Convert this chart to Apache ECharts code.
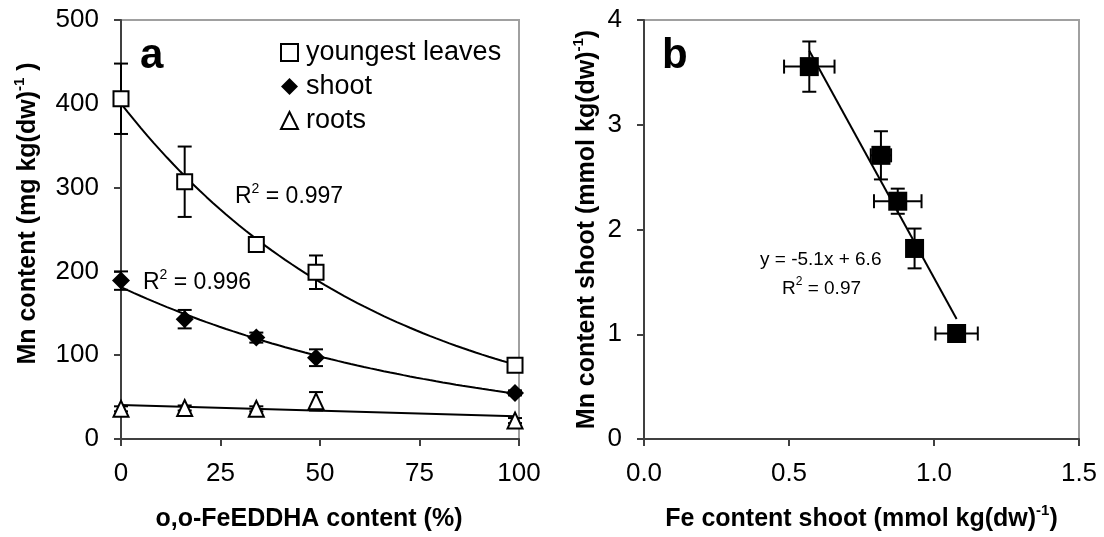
<!DOCTYPE html>
<html>
<head>
<meta charset="utf-8">
<script src="https://cdn.jsdelivr.net/npm/echarts@6/dist/echarts.min.js"></script>
<style>
html,body{margin:0;padding:0;background:#fff;}
#c{width:1104px;height:537px;}
</style>
</head>
<body>
<div id="c"></div>
<script>
// ---------- Data (panel a) ----------
const fePct = [0, 16, 34, 49, 99];
const leavesMn = [406, 307, 232, 199, 88];
const leavesErr = [42, 42, 5, 20, 7];
const shootMn = [189, 143, 121, 97, 55];
const shootErr = [11, 11, 6, 10, 3];
const rootsMn = [36, 37, 36, 45, 22];
const rootsErr = [3, 3, 3, 11, 3];
const xTicksA = [0, 25, 50, 75, 100];
const yTicksA = [0, 100, 200, 300, 400, 500];

// ---------- Data (panel b) ----------
const feShoot = [0.57, 0.817, 0.875, 0.933, 1.078];
const feShootErr = [0.087, 0.035, 0.082, 0.02, 0.073];
const mnShoot = [3.555, 2.708, 2.27, 1.819, 1.007];
const mnShootErr = [0.24, 0.23, 0.12, 0.19, 0.03];
const xTicksB = [0, 0.5, 1.0, 1.5];
const yTicksB = [0, 1, 2, 3, 4];

const FONT = 'Liberation Sans, Arial, Helvetica, sans-serif';

// ---------- regression helpers (trendlines computed from the data) ----------
function linFit(xs, ys) {
  const n = xs.length;
  const mx = xs.reduce((a, b) => a + b, 0) / n;
  const my = ys.reduce((a, b) => a + b, 0) / n;
  let sxy = 0, sxx = 0;
  for (let i = 0; i < n; i++) { sxy += (xs[i] - mx) * (ys[i] - my); sxx += (xs[i] - mx) ** 2; }
  const slope = sxy / sxx;
  return { slope, intercept: my - slope * mx };
}
function expFit(xs, ys) {
  const f = linFit(xs, ys.map(Math.log));
  return { a: Math.exp(f.intercept), b: f.slope };
}
function expCurve(xs, ys, steps) {
  const f = expFit(xs, ys);
  const x0 = Math.min(...xs), x1 = Math.max(...xs);
  const pts = [];
  for (let i = 0; i <= steps; i++) {
    const x = x0 + (x1 - x0) * i / steps;
    pts.push([x, f.a * Math.exp(f.b * x)]);
  }
  return pts;
}
function linEnds(xs, ys) {
  const f = linFit(xs, ys);
  const x0 = Math.min(...xs), x1 = Math.max(...xs);
  return [[x0, f.slope * x0 + f.intercept], [x1, f.slope * x1 + f.intercept]];
}
const zip = (xs, ys) => xs.map((x, i) => [x, ys[i]]);
const errData = (xs, ys, xe, ye) => xs.map((x, i) => [x, ys[i], xe ? xe[i] : 0, ye ? ye[i] : 0]);

function errRender(cap) {
  return function (params, api) {
    const x = api.value(0), y = api.value(1), xe = api.value(2), ye = api.value(3);
    const st = { stroke: '#000', lineWidth: 2 };
    const ch = [];
    if (ye > 0) {
      const top = api.coord([x, y + ye]), bot = api.coord([x, y - ye]);
      ch.push({ type: 'line', shape: { x1: top[0], y1: top[1], x2: bot[0], y2: bot[1] }, style: st });
      ch.push({ type: 'line', shape: { x1: top[0] - cap, y1: top[1], x2: top[0] + cap, y2: top[1] }, style: st });
      ch.push({ type: 'line', shape: { x1: bot[0] - cap, y1: bot[1], x2: bot[0] + cap, y2: bot[1] }, style: st });
    }
    if (xe > 0) {
      const l = api.coord([x - xe, y]), r = api.coord([x + xe, y]);
      ch.push({ type: 'line', shape: { x1: l[0], y1: l[1], x2: r[0], y2: r[1] }, style: st });
      ch.push({ type: 'line', shape: { x1: l[0], y1: l[1] - cap, x2: l[0], y2: l[1] + cap }, style: st });
      ch.push({ type: 'line', shape: { x1: r[0], y1: r[1] - cap, x2: r[0], y2: r[1] + cap }, style: st });
    }
    return { type: 'group', children: ch };
  };
}

const axisLine = { show: true, lineStyle: { color: '#404040', width: 2 } };
const axisTick = { show: true, inside: false, length: 7, lineStyle: { color: '#404040', width: 2 } };
const labelStyle = { color: '#000', fontSize: 26, fontFamily: FONT };
const nameBase = { color: '#000', fontSize: 25, fontWeight: 'bold', fontFamily: FONT };
const richName = {
  b: { fontSize: 25, fontWeight: 'bold', fontFamily: FONT, color: '#000', verticalAlign: 'bottom' },
  s: { fontSize: 15, fontWeight: 'bold', fontFamily: FONT, color: '#000', verticalAlign: 'bottom', padding: [0, 0, 14, 0] }
};
function richR(size, sup, raise) {
  return {
    r: { fontSize: size, fontFamily: FONT, color: '#000', verticalAlign: 'bottom' },
    s: { fontSize: sup, fontFamily: FONT, color: '#000', verticalAlign: 'bottom', padding: [0, 0, raise, 0] }
  };
}

const chart = echarts.init(document.getElementById('c'), null, { renderer: 'canvas' });

const option = {
  backgroundColor: '#fff',
  animation: false,
  textStyle: { fontFamily: FONT },
  grid: [
    { left: 121, top: 20, width: 398, height: 421, show: true, borderColor: '#a0a0a0', borderWidth: 2, containLabel: false },
    { left: 644, top: 20, width: 435, height: 420, show: true, borderColor: '#a0a0a0', borderWidth: 2, containLabel: false }
  ],
  xAxis: [
    {
      gridIndex: 0, type: 'value', min: xTicksA[0], max: xTicksA[xTicksA.length - 1], interval: 25,
      axisLine, axisTick, splitLine: { show: false },
      axisLabel: Object.assign({ margin: 22 }, labelStyle),
      name: 'o,o-FeEDDHA content (%)', nameLocation: 'middle', nameGap: 68,
      nameTextStyle: Object.assign({ padding: [0, 22, 0, 0] }, nameBase)
    },
    {
      gridIndex: 1, type: 'value', min: xTicksB[0], max: xTicksB[xTicksB.length - 1], interval: 0.5,
      axisLine, axisTick, splitLine: { show: false },
      axisLabel: Object.assign({ margin: 22, formatter: v => v.toFixed(1) }, labelStyle),
      name: '{b|Fe content shoot (mmol kg(dw)}{s|-1}{b|)}', nameLocation: 'middle', nameGap: 64,
      nameTextStyle: Object.assign({ rich: richName }, nameBase)
    }
  ],
  yAxis: [
    {
      gridIndex: 0, type: 'value', min: yTicksA[0], max: yTicksA[yTicksA.length - 1], interval: 100,
      axisLine, axisTick, splitLine: { show: false },
      axisLabel: Object.assign({ margin: 22 }, labelStyle),
      name: '{b|Mn content (mg kg(dw)}{s|-1}{b| )}', nameLocation: 'middle', nameGap: 80,
      nameTextStyle: Object.assign({ rich: richName, padding: [0, 0, 0, 32] }, nameBase)
    },
    {
      gridIndex: 1, type: 'value', min: yTicksB[0], max: yTicksB[yTicksB.length - 1], interval: 1,
      axisLine, axisTick, splitLine: { show: false },
      axisLabel: Object.assign({ margin: 22 }, labelStyle),
      name: '{b|Mn content shoot (mmol kg(dw)}{s|-1}{b|)}', nameLocation: 'middle', nameGap: 44,
      nameTextStyle: Object.assign({ rich: richName }, nameBase)
    }
  ],
  legend: {
    orient: 'vertical', left: 275, top: 34, itemWidth: 17, itemHeight: 17, itemGap: 7,
    selectedMode: false,
    data: ['youngest leaves', 'shoot', 'roots'],
    textStyle: { fontSize: 27, color: '#000', fontFamily: FONT, padding: [0, 0, 0, 3] }
  },
  series: [
    // trendlines
    { type: 'line', xAxisIndex: 0, yAxisIndex: 0, data: expCurve(fePct, leavesMn, 60), showSymbol: false, symbol: 'none',
      lineStyle: { color: '#000', width: 2 }, z: 1, silent: true },
    { type: 'line', xAxisIndex: 0, yAxisIndex: 0, data: expCurve(fePct, shootMn, 60), showSymbol: false, symbol: 'none',
      lineStyle: { color: '#000', width: 2 }, z: 1, silent: true },
    { type: 'line', xAxisIndex: 0, yAxisIndex: 0, data: linEnds(fePct, rootsMn), showSymbol: false, symbol: 'none',
      lineStyle: { color: '#000', width: 2 }, z: 1, silent: true },
    { type: 'line', xAxisIndex: 1, yAxisIndex: 1, data: linEnds(feShoot, mnShoot), showSymbol: false, symbol: 'none',
      lineStyle: { color: '#000', width: 2 }, z: 1, silent: true },
    // error bars
    { type: 'custom', xAxisIndex: 0, yAxisIndex: 0, renderItem: errRender(7), data: errData(fePct, leavesMn, null, leavesErr), z: 2, silent: true },
    { type: 'custom', xAxisIndex: 0, yAxisIndex: 0, renderItem: errRender(7), data: errData(fePct, shootMn, null, shootErr), z: 2, silent: true },
    { type: 'custom', xAxisIndex: 0, yAxisIndex: 0, renderItem: errRender(7), data: errData(fePct, rootsMn, null, rootsErr), z: 2, silent: true },
    { type: 'custom', xAxisIndex: 1, yAxisIndex: 1, renderItem: errRender(7), data: errData(feShoot, mnShoot, feShootErr, mnShootErr), z: 2, silent: true },
    // markers
    { name: 'youngest leaves', type: 'scatter', xAxisIndex: 0, yAxisIndex: 0, data: zip(fePct, leavesMn),
      symbol: 'rect', symbolSize: 15, itemStyle: { color: '#fff', borderColor: '#000', borderWidth: 2, opacity: 1 }, z: 3 },
    { name: 'shoot', type: 'scatter', xAxisIndex: 0, yAxisIndex: 0, data: zip(fePct, shootMn),
      symbol: 'diamond', symbolSize: 18, itemStyle: { color: '#000', opacity: 1 }, z: 3 },
    { name: 'roots', type: 'scatter', xAxisIndex: 0, yAxisIndex: 0, data: zip(fePct, rootsMn),
      symbol: 'triangle', symbolSize: [15, 16], itemStyle: { color: '#fff', borderColor: '#000', borderWidth: 2, opacity: 1 }, z: 3 },
    { name: 'shoot b', type: 'scatter', xAxisIndex: 1, yAxisIndex: 1, data: zip(feShoot, mnShoot),
      symbol: 'rect', symbolSize: 19, itemStyle: { color: '#000', opacity: 1 }, z: 3 }
  ],
  graphic: [
    { type: 'text', left: 140, top: 35, style: { text: 'a', font: 'bold 42px ' + FONT, fill: '#000' }, z: 10 },
    { type: 'text', left: 662, top: 35, style: { text: 'b', font: 'bold 42px ' + FONT, fill: '#000' }, z: 10 },
    { type: 'text', left: 235, top: 182, style: { text: '{r|R}{s|2}{r| = 0.997}', rich: richR(23, 14, 12) }, z: 10 },
    { type: 'text', left: 143, top: 268, style: { text: '{r|R}{s|2}{r| = 0.996}', rich: richR(23, 14, 12) }, z: 10 },
    { type: 'text', left: 760, top: 250, style: { text: 'y = -5.1x + 6.6', font: '19px ' + FONT, fill: '#000' }, z: 10 },
    { type: 'text', left: 782, top: 276, style: { text: '{r|R}{s|2}{r| = 0.97}', rich: richR(19, 12, 10) }, z: 10 }
  ]
};
chart.setOption(option);
</script>
</body>
</html>
